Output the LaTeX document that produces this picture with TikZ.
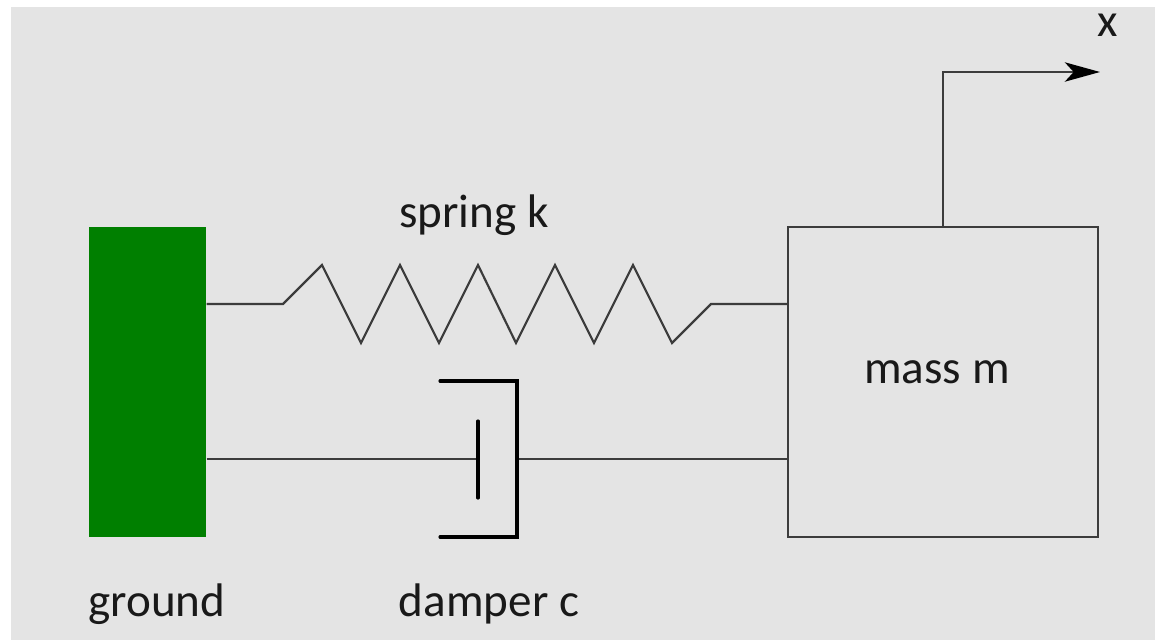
\documentclass[tikz,border=0pt]{standalone}
\usepackage{fontspec}
\setmainfont{Carlito}
\usetikzlibrary{arrows.meta}

\definecolor{fundo}{HTML}{E4E4E4}
\definecolor{chao}{HTML}{007F00}
\definecolor{linha}{HTML}{3C3C3C}

\begin{document}
\begin{tikzpicture}[
        every node/.style={inner sep=0pt, font=\fontsize{13.4}{15}\selectfont, text=black!90},
        bar/.style={draw=linha, line width=0.62pt},
        cup/.style={draw=black, line width=0.9pt, line cap=round},
        nodeground/.style={rectangle, fill=chao, minimum width=1.17cm, minimum height=3.10cm},
        nodemass/.style={rectangle, bar, minimum size=3.10cm}
        ]
        \useasboundingbox (0,0) rectangle (11.55,6.40);
        \fill[fundo] (0.11,0) rectangle (11.55,6.33);

        \node [nodeground] (ground) at (1.475,2.58) {};
        \node [nodemass] (mass) at (9.43,2.58) {};

        \node (masslabel) at (9.37,2.68) {mass m};
        \node (springlabel) at (4.74,4.25) {spring k};
        \node (groundlabel) at (1.57,0.36) {ground};
        \node (damperlabel) at (4.89,0.36) {damper c};
        \node (xlabel) at (11.08,6.15) {x};

        % spring
        \coordinate (springin) at (2.83,3.36);
        \coordinate (springout) at (7.11,3.36);
        \draw[bar] (ground.east |- springin) -- (springin)
            -- (3.22,3.75) -- (3.61,2.97) -- (4.00,3.75) -- (4.39,2.97)
            -- (4.78,3.75) -- (5.16,2.97) -- (5.55,3.75) -- (5.94,2.97)
            -- (6.33,3.75) -- (6.72,2.97) -- (springout) -- (mass.west |- springout);

        % damper
        \coordinate (piston) at (4.78,1.81);
        \coordinate (cupback) at (5.17,1.81);
        \draw[bar] (ground.east |- piston) -- (piston);
        \draw[bar] (cupback) -- (mass.west |- cupback);
        \draw[cup] (4.78,2.19) -- (4.78,1.42);
        \draw[cup] (4.40,2.59) -- (5.17,2.59) -- (5.17,1.03) -- (4.40,1.03);

        % displacement
        \coordinate (xcorner) at (9.43,5.68);
        \coordinate (xend) at (11.00,5.68);
        \draw[bar, -{Stealth[length=10pt, width=5.5pt, inset=2.5pt, color=black]}] (mass.north) -- (xcorner) -- (xend);
\end{tikzpicture}
\end{document}
